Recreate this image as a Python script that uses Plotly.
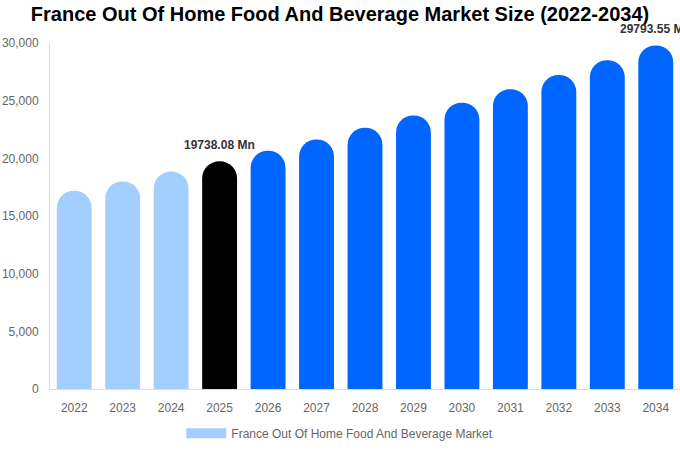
import plotly.graph_objects as go

years = ['2022', '2023', '2024', '2025', '2026', '2027', '2028', '2029',
         '2030', '2031', '2032', '2033', '2034']
market_size = [17190, 18000, 18850, 19738.08, 20660, 21630, 22650, 23710,
               24830, 26000, 27220, 28500, 29793.55]
bar_colors = ['#a3cfff'] * 3 + ['#000000'] + ['#0066ff'] * 9
labeled = {'2025': '19738.08 Mn', '2034': '29793.55 Mn'}
series_name = 'France Out Of Home Food And Beverage Market'
title = 'France Out Of Home Food And Beverage Market Size (2022-2034)'

fig = go.Figure()
fig.add_trace(go.Bar(x=years, y=market_size, marker_color=bar_colors,
                     marker_line_width=0, marker_cornerradius=18,
                     showlegend=False, hoverinfo='x+y'))
# legend entry only (no visible points)
fig.add_trace(go.Scatter(x=years[:1], y=[None], mode='lines', name=series_name,
                         line=dict(color='#a3cfff', width=12),
                         hoverinfo='skip'))

# category axis: numeric-looking strings get read as numbers, so use the index
for yr, txt in labeled.items():
    i = years.index(yr)
    fig.add_annotation(x=i, y=market_size[i], text=f'<b>{txt}</b>',
                       showarrow=False, yanchor='bottom', yshift=7,
                       font=dict(size=12, color='#333333'))

fig.update_layout(
    width=680, height=450,
    title=dict(text=f'<b>{title}</b>', x=0.5, xanchor='center', y=0.985,
               yanchor='top', font=dict(size=20, color='#000000')),
    font=dict(family='Liberation Sans, Arial', size=12, color='#666666'),
    paper_bgcolor='white', plot_bgcolor='white',
    margin=dict(l=50, r=0, t=43, b=61),
    bargap=0.28,
    legend=dict(orientation='h', x=0.46, xanchor='center', y=-0.128,
                yanchor='middle', font=dict(size=12, color='#666666'),
                itemwidth=40),
    xaxis=dict(type='category', categoryorder='array', categoryarray=years,
               range=[-0.5, len(years) - 0.5],
               showgrid=False, showline=True, linecolor='#dddddd', ticks='',
               ticklabelstandoff=8),
    yaxis=dict(range=[0, 30000], dtick=5000, tickformat=',', showgrid=False,
               showline=True, linecolor='#dddddd', zeroline=False,
               ticklabelstandoff=8),
)

fig.write_html("out.html", config={'displayModeBar': False},
               post_script="document.body.style.margin = '0';")
